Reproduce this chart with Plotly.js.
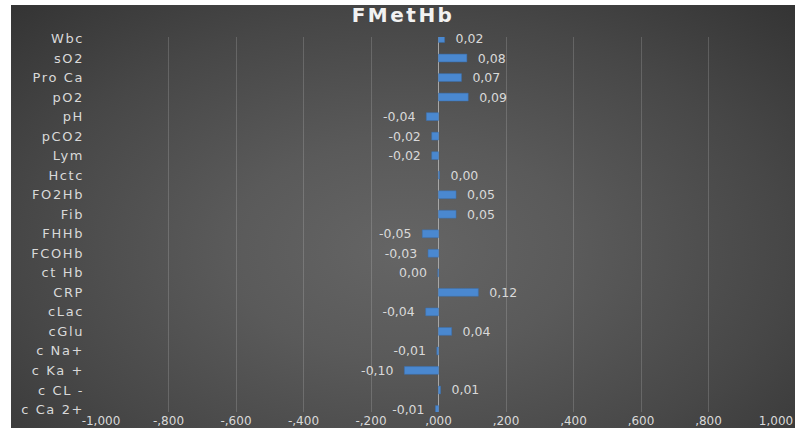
<!DOCTYPE html>
<html>
<head>
<meta charset="utf-8">
<script src="https://cdn.plot.ly/plotly-3.0.1.min.js"></script>
<style>
  html, body { margin:0; padding:0; background:#ffffff; width:795px; height:428px; overflow:hidden; }
  #bg { position:absolute; left:11px; top:5px; width:784px; height:423px;
        background: radial-gradient(ellipse 75% 85% at 50% 58%, #656565 0%, #5a5a5a 30%, #474747 65%, #313131 100%); }
  #chart { position:absolute; left:0; top:0; width:795px; height:428px; }
  #chart .ytick text { letter-spacing: 1.6px; }
  #chart .gtitle { letter-spacing: 2.5px; }
</style>
</head>
<body>
<div id="bg"></div>
<div id="chart"></div>
<script>
// Categories listed top to bottom
const categories = ["Wbc","sO2","Pro Ca","pO2","pH","pCO2","Lym","Hctc","FO2Hb","Fib","FHHb","FCOHb","ct Hb","CRP","cLac","cGlu","c Na+","c Ka +","c CL -","c Ca 2+"];
const values = [0.018, 0.084, 0.068, 0.088, -0.036, -0.02, -0.02, 0.003, 0.052, 0.052, -0.048, -0.031, -0.002, 0.118, -0.038, 0.039, -0.005, -0.101, 0.006, -0.009];
const valueLabels = ["0,02","0,08","0,07","0,09","-0,04","-0,02","-0,02","0,00","0,05","0,05","-0,05","-0,03","0,00","0,12","-0,04","0,04","-0,01","-0,10","0,01","-0,01"];
const xTickVals = [-1,-0.8,-0.6,-0.4,-0.2,0,0.2,0.4,0.6,0.8,1];
const xTickText = ["-1,000","-,800","-,600","-,400","-,200",",000",",200",",400",",600",",800","1,000"];

const pad = "\u00a0\u00a0";
const texts = valueLabels.map((t, i) => values[i] < 0 ? t + pad : pad + t);

const trace = {
  type: "bar",
  orientation: "h",
  y: categories,
  x: values,
  text: texts,
  textposition: "outside",
  constraintext: "none",
  cliponaxis: false,
  textfont: { family: "DejaVu Sans", size: 12.5, color: "#d9d9d9" },
  marker: { color: "#4a88d0", line: { color: "#3b70b0", width: 0.5 } },
  width: 0.4,
  hoverinfo: "none"
};

const layout = {
  width: 795,
  height: 428,
  margin: { l: 101, r: 19, t: 37, b: 16 },
  paper_bgcolor: "rgba(0,0,0,0)",
  plot_bgcolor: "rgba(0,0,0,0)",
  showlegend: false,
  title: {
    text: "<b>FMetHb</b>",
    font: { family: "DejaVu Sans", size: 20, color: "#f2f2f2" },
    x: 0.507, xref: "container", xanchor: "center",
    y: 1 - 15/428, yref: "container", yanchor: "middle"
  },
  xaxis: {
    range: [-1, 1],
    tickvals: xTickVals,
    ticktext: xTickText,
    showgrid: true,
    gridcolor: "rgba(255,255,255,0.16)",
    gridwidth: 1,
    zeroline: true,
    zerolinecolor: "#a6a6a6",
    zerolinewidth: 1.5,
    showline: false,
    ticks: "",
    tickfont: { family: "DejaVu Sans", size: 12, color: "#d9d9d9" },
    fixedrange: true
  },
  yaxis: {
    type: "category",
    categoryorder: "array",
    categoryarray: categories,
    range: [19 + 2.5/19.53, -1.5/19.53],
    showgrid: false,
    zeroline: false,
    showline: false,
    ticks: "",
    ticklabelstandoff: 16,
    tickfont: { family: "DejaVu Sans", size: 13, color: "#d9d9d9" },
    fixedrange: true
  }
};

Plotly.newPlot("chart", [trace], layout, { displayModeBar: false, staticPlot: true });
</script>
</body>
</html>
